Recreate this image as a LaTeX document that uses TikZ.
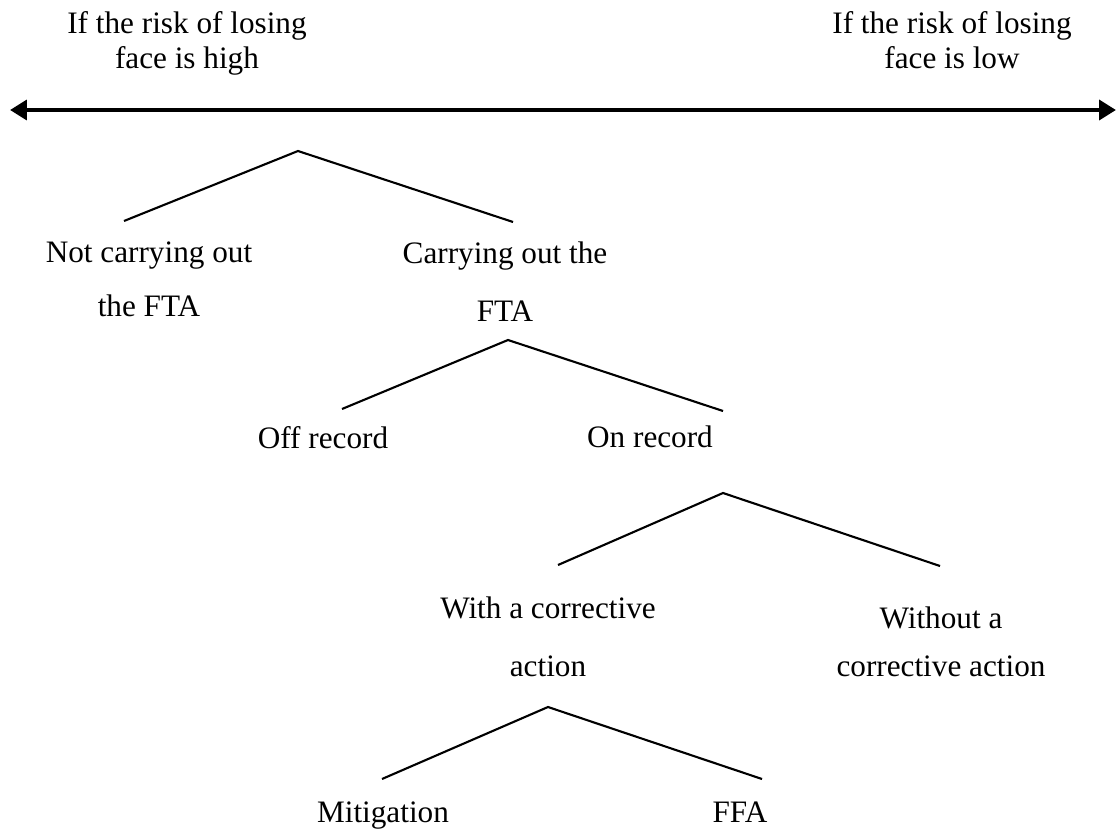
\documentclass[tikz,border=0pt]{standalone}
\usepackage{fontspec}
\setmainfont{Liberation Serif}
\usetikzlibrary{arrows.meta}
\begin{document}
\begin{tikzpicture}[x=0.025cm,y=-0.025cm,
    scale line/.style={line width=3.5pt,{Triangle[length=12pt,width=14pt]}-{Triangle[length=12pt,width=14pt]}},
    branch/.style={line width=1.5pt},
    label/.style={anchor=north,inner sep=0pt,align=center,font=\fontsize{22.2}{38}\selectfont}]
\useasboundingbox (0,0) rectangle (1118,834);
% the scale of face risk
\node[label,font=\fontsize{22.2}{25}\selectfont] (high) at (187,11) {If the risk of losing\\face is high};
\node[label,font=\fontsize{22.2}{25}\selectfont] (low) at (952,11) {If the risk of losing\\face is low};
\coordinate (scaleL) at (10,110);
\coordinate (scaleR) at (1116,110);
\draw[scale line] (scaleL) -- (scaleR);
% the tree
\foreach \n/\ax/\ay/\lx/\ly/\rx/\ry in {fta/298/151/124/221/513/222,
    rec/508/340/342/409/723/411,
    act/723/493/558/565/940/566,
    cor/548/707/382/779/762/779}{
    \coordinate (top\n) at (\ax,\ay);
    \coordinate (left\n) at (\lx,\ly);
    \coordinate (right\n) at (\rx,\ry);
    \draw[branch] (left\n) -- (top\n) -- (right\n);
}
\node[label] (notfta) at (149,242) {Not carrying out\\the FTA};
\node[label,font=\fontsize{22.2}{41}\selectfont] (fta) at (505,242) {Carrying out the\\FTA};
\node[label] (off) at (323,426) {Off record};
\node[label] (on) at (650,426) {On record};
\node[label,font=\fontsize{22.2}{41}\selectfont] (with) at (548,597) {With a corrective\\action};
\node[label,font=\fontsize{22.2}{34}\selectfont] (without) at (941,607) {Without a\\corrective action};
\node[label] (mitig) at (383,802) {Mitigation};
\node[label] (ffa) at (740,802) {FFA};
\end{tikzpicture}
\end{document}
